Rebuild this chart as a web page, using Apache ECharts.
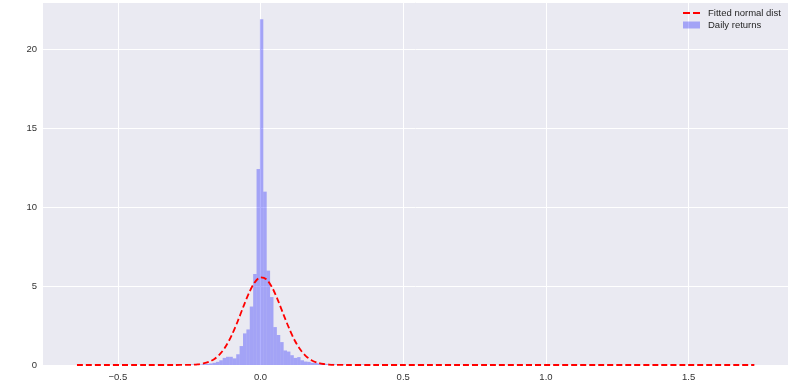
<!DOCTYPE html>
<html>
<head>
<meta charset="utf-8">
<script src="https://cdn.jsdelivr.net/npm/echarts@6/dist/echarts.min.js"></script>
<style>
html,body{margin:0;padding:0;background:#fff;}
#chart{width:800px;height:388px;}
</style>
</head>
<body>
<div id="chart"></div>
<script>
// Histogram bins (density)
const binStart = -0.643;
const binWidth = 0.01187;
const binIndex = [0, 33, 34, 35, 36, 37, 38, 39, 40, 41, 42, 43, 44, 45, 46, 47, 48, 49, 50, 51, 52, 53, 54, 55, 56, 57, 58, 59, 60, 61, 62, 63, 64, 65, 66, 67, 68, 69, 70, 71, 72, 73, 74, 75, 76, 78, 84, 199];
const density = [0.034, 0.03, 0.03, 0.07, 0.03, 0.07, 0.07, 0.10, 0.14, 0.20, 0.30, 0.45, 0.52, 0.52, 0.42, 0.68, 1.2, 2.0, 2.25, 3.7, 5.76, 12.4, 21.88, 10.97, 5.97, 4.3, 2.4, 1.9, 1.45, 0.92, 0.85, 0.62, 0.45, 0.5, 0.3, 0.22, 0.2, 0.14, 0.14, 0.1, 0.07, 0.07, 0.03, 0.07, 0.03, 0.03, 0.03, 0.034];

// Fitted normal curve
const curveX = [-0.643, -0.40, -0.30, -0.26, -0.24, -0.22, -0.20, -0.18, -0.16, -0.14, -0.12, -0.10, -0.08, -0.06, -0.04, -0.02, 0.00, 0.02, 0.04, 0.06, 0.08, 0.10, 0.12, 0.14, 0.16, 0.18, 0.20, 0.22, 0.24, 0.26, 0.30, 0.40, 1.73];
const curveY = [0, 0, 0.001, 0.006, 0.017, 0.042, 0.097, 0.205, 0.40, 0.73, 1.23, 1.92, 2.76, 3.69, 4.57, 5.23, 5.54, 5.43, 4.93, 4.14, 3.22, 2.33, 1.55, 0.96, 0.55, 0.29, 0.14, 0.064, 0.027, 0.01, 0.001, 0, 0];

const xTicks = [-0.5, 0.0, 0.5, 1.0, 1.5];
const yTicks = [0, 5, 10, 15, 20];

const histData = binIndex.map((k, i) => [binStart + k * binWidth, binStart + (k + 1) * binWidth, density[i]]);
const curveData = curveX.map((x, i) => [x, curveY[i]]);

const chart = echarts.init(document.getElementById('chart'), null, {renderer: 'canvas'});
const fontFamily = '"Liberation Sans", Arial, sans-serif';
const legendText = {fontFamily: fontFamily, fontSize: 9.5, color: '#262626', padding: [0, 0, 0, 3]};
chart.setOption({
  animation: false,
  backgroundColor: '#ffffff',
  grid: {left: 43, right: 12, top: 2, bottom: 23, show: true, backgroundColor: '#EAEAF2', borderWidth: 0},
  legend: [
    {
      orient: 'vertical', left: 683, top: 8, padding: 0, itemWidth: 17, itemHeight: 2,
      textStyle: legendText,
      data: [{name: 'Fitted normal dist', icon: 'path://M0,0H7V2H0ZM10,0H17V2H10Z', itemStyle: {color: '#ff0000'}}]
    },
    {
      orient: 'vertical', left: 683, top: 20, padding: 0, itemWidth: 17, itemHeight: 7,
      textStyle: legendText,
      data: [{name: 'Daily returns', icon: 'rect'}]
    }
  ],
  xAxis: {
    type: 'value', min: -0.762, max: 1.848,
    axisLine: {show: false}, axisTick: {show: false, customValues: xTicks},
    axisLabel: {customValues: xTicks, margin: 7, fontFamily: fontFamily, fontSize: 9.5, color: '#333',
      formatter: v => (v < 0 ? '\u2212' : '') + Math.abs(v).toFixed(1)},
    splitLine: {show: true, lineStyle: {color: '#ffffff', width: 1}}
  },
  yAxis: {
    type: 'value', min: 0, max: 22.97, interval: 5,
    axisLine: {show: false}, axisTick: {show: false},
    axisLabel: {showMaxLabel: false, margin: 6, fontFamily: fontFamily, fontSize: 9.5, color: '#333',
      formatter: v => String(v)},
    splitLine: {show: true, lineStyle: {color: '#ffffff', width: 1}}
  },
  series: [
    {
      name: 'Fitted normal dist', type: 'line', data: curveData, smooth: 0.3,
      symbol: 'none', z: 3,
      lineStyle: {color: '#ff0000', width: 1.8, type: [6, 3]},
      itemStyle: {color: '#ff0000'}
    },
    {
      name: 'Daily returns', type: 'custom', z: 2,
      itemStyle: {color: 'rgba(0,0,255,0.3)'},
      encode: {x: [0, 1], y: 2},
      data: histData,
      renderItem: function (params, api) {
        const p0 = api.coord([api.value(0), api.value(2)]);
        const p1 = api.coord([api.value(1), 0]);
        return {
          type: 'rect',
          shape: {x: p0[0], y: p0[1], width: p1[0] - p0[0], height: p1[1] - p0[1]},
          style: {fill: 'rgba(0,0,255,0.3)'}
        };
      }
    }
  ]
});
</script>
</body>
</html>
